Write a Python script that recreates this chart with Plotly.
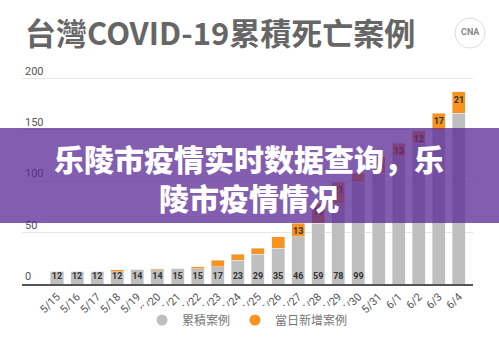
import plotly.graph_objects as go

dates = ["5/15", "5/16", "5/17", "5/18", "5/19", "5/20", "5/21", "5/22", "5/23", "5/24",
         "5/25", "5/26", "5/27", "5/28", "5/29", "5/30", "5/31", "6/1", "6/2", "6/3", "6/4"]
cumulative = [12, 12, 12, 12, 14, 14, 15, 15, 17, 23, 29, 35, 46, 59, 78, 99, 108, 124, 137, 149, 166]
new_cases = [0, 0, 0, 2, 0, 1, 0, 2, 6, 6, 6, 11, 13, 19, 21, 9, 16, 13, 12, 17, 21]
y_ticks = [0, 50, 100, 150, 200]

GRAY = "#bfbfbf"
ORANGE = "#f7931e"
CJK = "Noto Sans CJK TC"

cum_text = [str(v) if v < 100 else "" for v in cumulative]
new_text = [str(v) if v >= 12 else "" for v in new_cases]

W, H = 499, 352
L, R, T, B = 22, 26, 58, 68
PW, PH = W - L - R, H - T - B


def px_x(x):
    return (x - L) / PW


def px_y(y):
    return (H - B - y) / PH


fig = go.Figure()
fig.add_trace(go.Bar(
    x=dates, y=cumulative, name="累積案例", marker_color=GRAY,
    text=cum_text, textposition="inside", insidetextanchor="start", textangle=0,
    textfont=dict(size=9, color="#333333", family="Roboto", weight=700),
    constraintext="none", showlegend=False, cliponaxis=False,
))
fig.add_trace(go.Bar(
    x=dates, y=new_cases, name="當日新增案例", marker_color=ORANGE,
    text=new_text, textposition="inside", insidetextanchor="end", textangle=0,
    textfont=dict(size=9, color="#333333", family="Roboto", weight=700),
    constraintext="none", showlegend=False, cliponaxis=False,
))
# legend proxies (circle markers)
fig.add_trace(go.Scatter(x=[None], y=[None], mode="markers", name="累積案例",
                         marker=dict(color=GRAY, size=11, symbol="circle")))
fig.add_trace(go.Scatter(x=[None], y=[None], mode="markers", name="當日新增案例",
                         marker=dict(color=ORANGE, size=11, symbol="circle")))

fig.update_layout(
    width=W, height=H,
    margin=dict(l=L, r=R, t=T, b=B),
    paper_bgcolor="white", plot_bgcolor="white",
    barmode="stack", bargap=0.35,
    font=dict(family=CJK, color="#555555"),
    title=dict(text="台灣COVID-19累積死亡案例", x=25 / W, xanchor="left",
               y=1 - 34 / H, yanchor="middle",
               font=dict(size=31, color="#666666", family=CJK, weight=700)),
    legend=dict(orientation="h", x=0.5, xanchor="center", y=px_y(320), yanchor="middle",
                xref="paper", yref="paper", itemwidth=30, traceorder="normal",
                font=dict(size=12, color="#777777", family=CJK)),
    xaxis=dict(type="category", range=[-1.74, 20.7], tickangle=-45,
               showline=True, linecolor="#555555", linewidth=2, ticks="",
               showgrid=False, tickfont=dict(size=11, color="#555555", family="Roboto")),
    yaxis=dict(range=[0, 220], tickvals=y_ticks, ticklabelposition="inside top",
               showgrid=True, gridcolor="#e6e6e6", gridwidth=1, zeroline=False,
               showline=False, ticks="",
               tickfont=dict(size=11, color="#555555", family="Roboto")),
)

# purple banner overlay
fig.add_shape(type="rect", xref="paper", yref="paper",
              x0=px_x(0), x1=px_x(W), y0=px_y(223), y1=px_y(128),
              fillcolor="rgba(90,40,150,0.75)", line_width=0, layer="above")
fig.add_annotation(xref="paper", yref="paper", x=px_x(249.5), y=px_y(177),
                   text="乐陵市疫情实时数据查询，乐<br>陵市疫情情况", showarrow=False,
                   align="center", xanchor="center", yanchor="middle",
                   font=dict(size=30, color="white", family="Noto Sans CJK SC", weight=900))

# logo
fig.add_shape(type="circle", xref="paper", yref="paper",
              x0=px_x(455), x1=px_x(485), y0=px_y(48), y1=px_y(18),
              line=dict(color="#dddddd", width=1), fillcolor="white", layer="above")
fig.add_annotation(xref="paper", yref="paper", x=px_x(470), y=px_y(32),
                   text="<b>CNA</b>", showarrow=False, xanchor="center", yanchor="middle",
                   font=dict(size=9, color="#888888", family="Roboto"))

fig.write_html("out.html")
